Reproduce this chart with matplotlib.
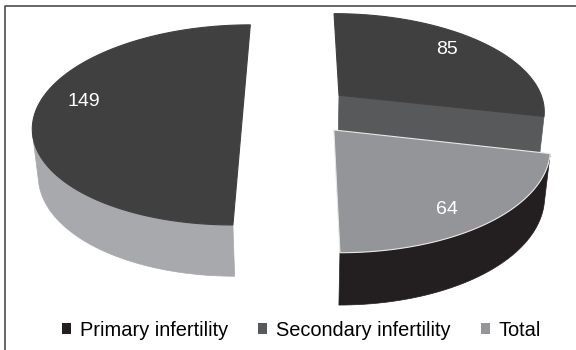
import numpy as np
import matplotlib.pyplot as plt
from matplotlib.patches import Patch

categories = ['Primary infertility', 'Secondary infertility', 'Total']
values = [85, 64, 149]

legend_colors = ['#231f20', '#58595b', '#939598']
top_colors = ['#404041', '#939598', '#404041']
side_colors = ['#58595b', '#231f20', '#a7a9ac']
top_edges = ['none', '#e8e8e8', 'none']
explode = [0.247, 0.254, 0.276]
label_xy = [(447, 50), (447, 210), (84, 101)]

plt.rcParams['font.family'] = ['Liberation Sans', 'DejaVu Sans']

# simple perspective camera, drawing happens in pixel space
sin_p, cos_p = 0.485, 0.875
D = 5.87
sx, sy = 1214.0, 1184.0
cx, cy = 300.0, 110.0
depth = 0.268
cam_y = -D * cos_p


def proj(X, Y, Z):
    z = D + Y * cos_p - Z * sin_p
    return cx + sx * X / z, cy - sy * (Y * sin_p + Z * cos_p) / z


fig = plt.figure(figsize=(5.76, 3.5), dpi=100)
ax = fig.add_axes([0, 0, 1, 1])
ax.set_xlim(0, 576)
ax.set_ylim(350, 0)
ax.axis('off')

total = sum(values)
start = 90.0
slices = []
for i, v in enumerate(values):
    a1 = start
    a2 = start - v / total * 360.0
    start = a2
    slices.append((i, np.radians(a1), np.radians(a2)))

# paint back to front
slices.sort(key=lambda s: -np.sin((s[1] + s[2]) / 2))

for i, a1, a2 in slices:
    mid = (a1 + a2) / 2
    ox, oy = explode[i] * np.cos(mid), explode[i] * np.sin(mid)
    t = np.linspace(a1, a2, 300)
    rx, ry = ox + np.cos(t), oy + np.sin(t)

    # curved side, only where it faces the camera
    facing = -rx * np.cos(t) - (-cam_y + ry) * np.sin(t) > 0
    if facing.any():
        fx, fy = rx[facing], ry[facing]
        px1, py1 = proj(fx, fy, 0 * fx)
        px2, py2 = proj(fx, fy, 0 * fx - depth)
        ax.fill(np.r_[px1, px2[::-1]], np.r_[py1, py2[::-1]],
                color=side_colors[i], lw=0.5, ec=side_colors[i])

    # flat cut walls that face front
    for a, n in ((a1, a1 + np.pi / 2), (a2, a2 - np.pi / 2)):
        if np.sin(n) < -0.1:
            wx = np.array([ox, ox + np.cos(a), ox + np.cos(a), ox])
            wy = np.array([oy, oy + np.sin(a), oy + np.sin(a), oy])
            wz = np.array([0, 0, -depth, -depth])
            px, py = proj(wx, wy, wz)
            ax.fill(px, py, color=side_colors[i], lw=0.5, ec=side_colors[i])

    # top face
    px, py = proj(np.r_[ox, rx], np.r_[oy, ry], np.zeros(len(rx) + 1))
    ec = top_edges[i] if top_edges[i] != 'none' else top_colors[i]
    ax.fill(px, py, fc=top_colors[i], ec=ec, lw=0.8)

for (x, y), v in zip(label_xy, values):
    ax.text(x, y, str(v), color='white', fontsize=14, ha='center', va='center')

ax.plot([5, 5, 576], [350, 5.5, 5.5], color='#4d4d4d', lw=1.2, clip_on=False)

handles = [Patch(facecolor=c) for c in legend_colors]
fig.legend(handles, categories, loc='center', bbox_to_anchor=(301.5 / 576, 1 - 330 / 350),
           ncol=3, frameon=False, fontsize=14.4, handlelength=0.45, handleheight=0.45,
           handletextpad=0.45, columnspacing=1.5, borderpad=0)

fig.savefig('out.png', dpi=100)
